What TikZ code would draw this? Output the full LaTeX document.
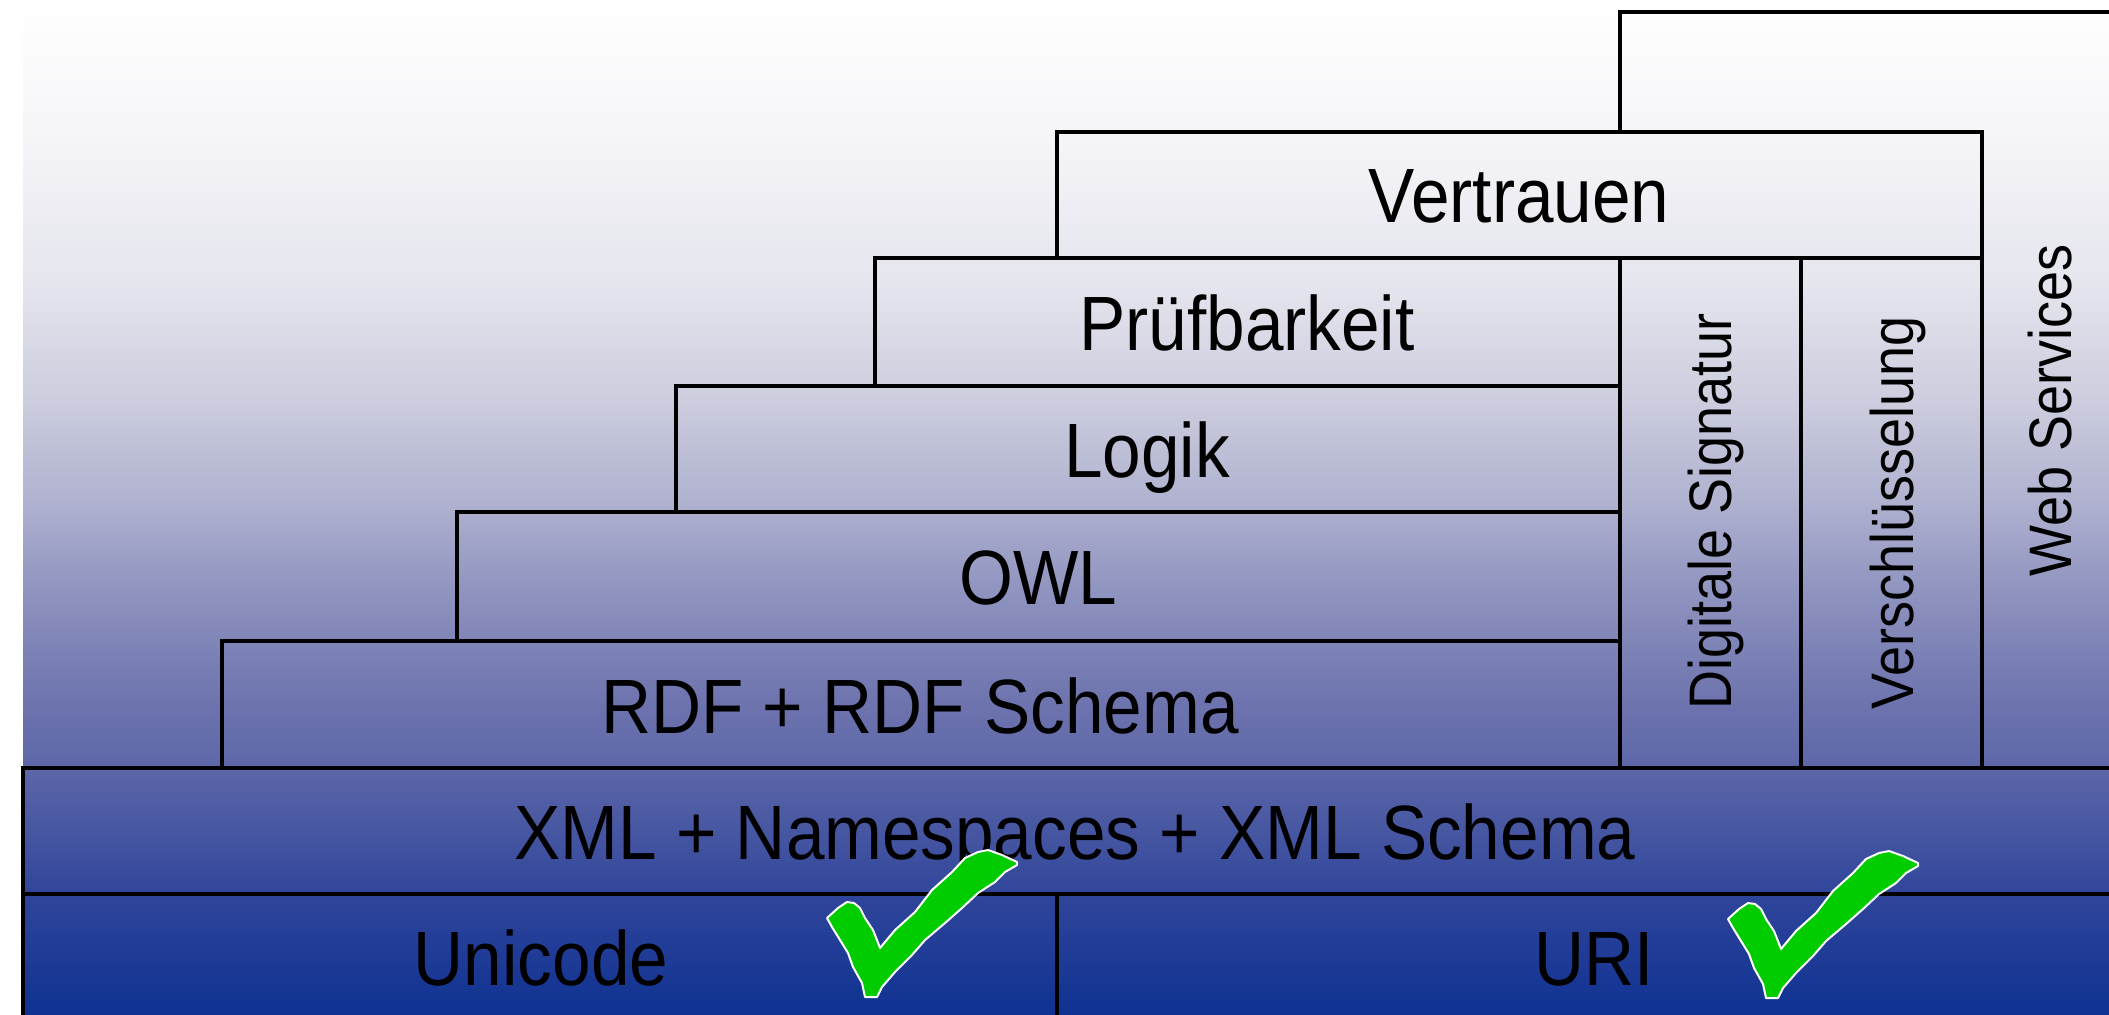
\documentclass[tikz,border=0pt]{standalone}
\usepackage{fontspec}
\newfontfamily\layerfont{Liberation Sans}[FakeStretch=0.9]

% colour stops of the backdrop, bottom to top
\definecolor{sh0}{RGB}{15,50,146}
\definecolor{sh1}{RGB}{46,68,154}
\definecolor{sh2}{RGB}{92,102,168}
\definecolor{sh3}{RGB}{110,116,174}
\definecolor{sh4}{RGB}{140,145,190}
\definecolor{sh5}{RGB}{176,178,208}
\definecolor{sh6}{RGB}{204,205,222}
\definecolor{sh7}{RGB}{229,230,238}
\definecolor{sh8}{RGB}{246,246,249}
\definecolor{sh9}{RGB}{254,254,254}
\definecolor{checkgreen}{RGB}{0,204,0}

\pgfdeclareverticalshading{skyfade}{100bp}{
  color(0bp)=(sh0); color(25bp)=(sh0); color(30.7bp)=(sh1);
  color(37.2bp)=(sh2); color(40.7bp)=(sh3); color(45.7bp)=(sh4);
  color(50.7bp)=(sh5); color(55.7bp)=(sh6); color(61.7bp)=(sh7);
  color(69.2bp)=(sh8); color(75bp)=(sh9); color(100bp)=(sh9)}

\tikzset{
  layerbox/.style={draw=black, line width=1.7pt},
  hlabel/.style={anchor=base, inner sep=0pt,
    font=\layerfont\fontsize{38.5}{40}\selectfont},
  vlabel/.style={anchor=base, rotate=90, inner sep=0pt,
    font=\layerfont\fontsize{30}{32}\selectfont},
  checkfill/.style={fill=checkgreen, draw=white, line width=1pt,
    line join=round},
  checkmark/.pic={
    \filldraw[checkfill] (0,1) -- (11,-9) -- (20,-15) -- (27,-14)
      -- (33,-9) -- (38,1) -- (46,13) -- (50,23) -- (53,31)
      -- (68,13) -- (88,-5) -- (105,-27) -- (125,-45) -- (138,-59)
      -- (151,-65) -- (161,-67) -- (175,-62) -- (190,-55) -- (190,-52)
      -- (178,-45) -- (168,-35) -- (151,-24) -- (135,-9) -- (118,6)
      -- (98,23) -- (85,38) -- (68,55) -- (55,70) -- (50,80)
      -- (38,80) -- (35,66) -- (26,50) -- (21,36) -- (13,23)
      -- (5,10) -- cycle;
  }
}

\begin{document}
\begin{tikzpicture}[x=0.5pt, y=-0.5pt]
  \useasboundingbox (0,0) rectangle (2109,1014);

  % graded backdrop
  \fill[shading=skyfade] (23,14) rectangle (2109,1014);

  \begin{scope}
    \clip (0,0) rectangle (2109,1014);
    % layer frames
    \draw[layerbox] (1620,132) -- (1620,12) -- (2140,12); % web services
    \draw[layerbox] (1057,132) rectangle (1982,258);  % trust
    \draw[layerbox] (875,258) rectangle (1620,386);   % proof
    \draw[layerbox] (676,386) rectangle (1620,512);   % logic
    \draw[layerbox] (457,512) rectangle (1620,641);   % OWL
    \draw[layerbox] (222,641) rectangle (1620,768);   % RDF
    \draw[layerbox] (1620,258) rectangle (1801,768);  % signature
    \draw[layerbox] (1801,258) rectangle (1982,768);  % encryption
    \draw[layerbox] (23,768) rectangle (2140,894);    % XML
    \draw[layerbox] (23,894) rectangle (1057,1040);   % Unicode
    \draw[layerbox] (1057,894) rectangle (2140,1040); % URI
  \end{scope}

  % layer captions
  \node[hlabel] (trust)   at (1519,222) {Vertrauen};
  \node[hlabel] (proof)   at (1247,350) {Prüfbarkeit};
  \node[hlabel] (logic)   at (1147,477) {Logik};
  \node[hlabel] (owl)     at (1038,604) {OWL};
  \node[hlabel] (rdf)     at (920,733)  {RDF + RDF Schema};
  \node[hlabel] (xml)     at (1075,859) {XML + Namespaces + XML Schema};
  \node[hlabel] (unicode) at (541,985)  {Unicode};
  \node[hlabel] (uri)     at (1594,985) {URI};

  \node[vlabel] (sig)  at (1731,511) {Digitale Signatur};
  \node[vlabel] (enc)  at (1913,513) {Verschlüsselung};
  \node[vlabel] (web)  at (2071,410) {Web Services};

  % ticks on the finished layers
  \pic at (827,917) {checkmark};
  \pic at (1728,918) {checkmark};
\end{tikzpicture}
\end{document}
